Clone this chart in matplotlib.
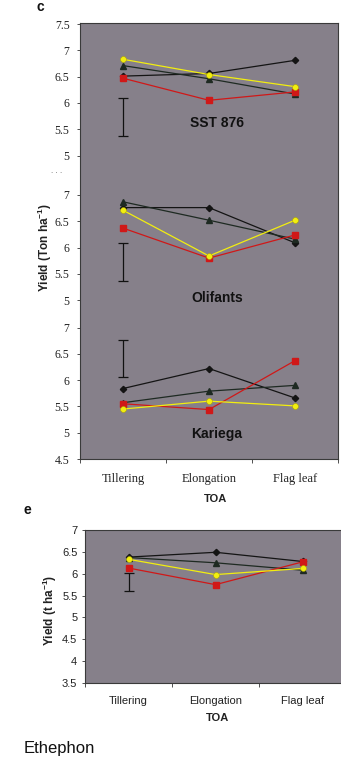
import matplotlib
matplotlib.use("Agg")
import matplotlib.pyplot as plt

# ---------------- data ----------------
stages = ["Tillering", "Elongation", "Flag leaf"]
cultivars = ["SST 876", "Olifants", "Kariega"]

# panel c (per cultivar): diamond, triangle, square(red), circle(yellow)
c_diamond = {"SST 876": [6.51, 6.56, 6.81], "Olifants": [6.76, 6.76, 6.09], "Kariega": [5.84, 6.22, 5.66]}
c_triangle = {"SST 876": [6.71, 6.46, 6.17], "Olifants": [6.87, 6.52, 6.16], "Kariega": [5.57, 5.79, 5.90]}
c_square = {"SST 876": [6.47, 6.05, 6.21], "Olifants": [6.37, 5.80, 6.24], "Kariega": [5.55, 5.44, 6.37]}
c_circle = {"SST 876": [6.83, 6.54, 6.31], "Olifants": [6.71, 5.84, 6.52], "Kariega": [5.45, 5.60, 5.51]}
c_err_low = {"SST 876": 5.37, "Olifants": 5.37, "Kariega": 6.05}
c_err_high = {"SST 876": 6.09, "Olifants": 6.08, "Kariega": 6.77}
c_ticks = {"SST 876": [5, 5.5, 6, 6.5, 7, 7.5], "Olifants": [5, 5.5, 6, 6.5, 7], "Kariega": [4.5, 5, 5.5, 6, 6.5, 7]}

# panel e
e_diamond = [6.38, 6.49, 6.28]
e_triangle = [6.37, 6.25, 6.08]
e_square = [6.13, 5.75, 6.27]
e_circle = [6.33, 5.98, 6.12]
e_err = [5.60, 6.02]
e_ticks = [3.5, 4, 4.5, 5, 5.5, 6, 6.5, 7]

# ---------------- style ----------------
W, H = 341, 757
BG = "#86808a"
RED = "#d01818"
YEL = "#f2ee10"
DIA = "#141414"
TRI = "#1e2a22"
TXT = "#222222"
plt.rcParams["mathtext.default"] = "regular"
SERIF = "Liberation Serif"
SANS = "Liberation Sans"

fig = plt.figure(figsize=(W / 100, H / 100), dpi=100)


def box(l, r, t, b):
    return [l / W, 1 - b / H, (r - l) / W, (b - t) / H]


# vertical offsets of stacked cultivar bands in panel c
offsets = {"SST 876": 5.27, "Olifants": 2.52, "Kariega": 0.0}

axc = fig.add_axes(box(80, 338, 23, 459))
axc.set_facecolor(BG)
axc.set_xlim(0.5, 3.5)
axc.set_ylim(4.5, 12.79)
x = [1, 2, 3]

for cv in cultivars:
    o = offsets[cv]
    sh = lambda v: [vv + o for vv in v]
    axc.plot(x, sh(c_diamond[cv]), color=DIA, lw=0.9, marker="D", ms=3.2, zorder=3)
    axc.plot(x, sh(c_triangle[cv]), color=TRI, lw=0.9, marker="^", ms=4, zorder=3)
    axc.plot(x, sh(c_square[cv]), color=RED, lw=0.9, marker="s", ms=4, zorder=4)
    axc.plot(x, sh(c_circle[cv]), color=YEL, lw=0.9, marker="o", ms=4.2,
             mec="#b0a800", mew=0.4, zorder=5)
    lo, hi = c_err_low[cv] + o, c_err_high[cv] + o
    axc.errorbar([1], [(lo + hi) / 2], yerr=[[(hi - lo) / 2], [(hi - lo) / 2]],
                 fmt="none", ecolor="#111111", elinewidth=0.9, capsize=3.5, capthick=0.9)

tpos, tlab = [], []
for cv in cultivars:
    for t in c_ticks[cv]:
        tpos.append(t + offsets[cv])
        tlab.append(f"{t:g}")
axc.set_yticks(tpos)
axc.set_yticklabels(tlab, fontfamily=SERIF, fontsize=8.5, color=TXT)
axc.tick_params(axis="y", length=2.5, width=0.6, pad=5, color="#333333")
axc.text(-0.07, 9.94, "· · ·", transform=axc.get_yaxis_transform(), ha="right", va="center",
         fontsize=5, color="#666666")

axc.set_xticks(x)
axc.set_xticklabels(stages, fontfamily=SERIF, fontsize=9, color=TXT)
axc.set_xticks([0.5, 1.5, 2.5, 3.5], minor=True)
axc.tick_params(axis="x", which="major", length=0, pad=10)
axc.tick_params(axis="x", which="minor", length=3, width=0.6, color="#333333")
for s in axc.spines.values():
    s.set_color("#3a3a3a")
    s.set_linewidth(0.8)

label_pos = {"SST 876": 123, "Olifants": 298, "Kariega": 434}
for cv in cultivars:
    fig.text(217 / W, 1 - label_pos[cv] / H, cv, ha="center", va="center",
             fontfamily=SANS, fontweight="bold", fontsize=10, color="#111111")

fig.text(45 / W, 1 - 248 / H, "Yield (Ton ha$^{-1}$)", rotation=90, ha="center", va="center",
         fontfamily=SANS, fontweight="bold", fontsize=8.5, color=TXT)
fig.text(215 / W, 1 - 499 / H, "TOA", ha="center", va="center",
         fontfamily=SANS, fontweight="bold", fontsize=8, color=TXT)
fig.text(40 / W, 1 - 7 / H, "c", ha="center", va="center",
         fontfamily=SANS, fontweight="bold", fontsize=10, color="#111111")

# ---------------- panel e ----------------
axe = fig.add_axes(box(85, 346, 530, 683))
axe.set_facecolor(BG)
axe.set_xlim(0.5, 3.5)
axe.set_ylim(3.5, 7)
axe.plot(x, e_diamond, color=DIA, lw=0.9, marker="D", ms=3.2, zorder=3)
axe.plot(x, e_triangle, color=TRI, lw=0.9, marker="^", ms=4, zorder=3)
axe.plot(x, e_square, color=RED, lw=0.9, marker="s", ms=4, zorder=4)
axe.plot(x, e_circle, color=YEL, lw=0.9, marker="o", ms=4.2, mec="#b0a800", mew=0.4, zorder=5)
axe.errorbar([1], [(e_err[0] + e_err[1]) / 2], yerr=[[(e_err[1] - e_err[0]) / 2], [(e_err[1] - e_err[0]) / 2]],
             fmt="none", ecolor="#111111", elinewidth=0.9, capsize=3.5, capthick=0.9)
axe.set_yticks(e_ticks)
axe.set_yticklabels([f"{t:g}" for t in e_ticks], fontfamily=SANS, fontsize=8, color=TXT)
axe.tick_params(axis="y", length=2.5, width=0.6, pad=3, color="#333333")
axe.set_xticks(x)
axe.set_xticklabels(stages, fontfamily=SANS, fontsize=8, color=TXT)
axe.set_xticks([0.5, 1.5, 2.5, 3.5], minor=True)
axe.tick_params(axis="x", which="major", length=0, pad=9)
axe.tick_params(axis="x", which="minor", length=3, width=0.6, color="#333333")
for s in axe.spines.values():
    s.set_color("#3a3a3a")
    s.set_linewidth(0.8)

fig.text(50 / W, 1 - 610 / H, "Yield (t ha$^{-1}$)", rotation=90, ha="center", va="center",
         fontfamily=SANS, fontweight="bold", fontsize=8.5, color=TXT)
fig.text(217 / W, 1 - 718 / H, "TOA", ha="center", va="center",
         fontfamily=SANS, fontweight="bold", fontsize=8, color=TXT)
fig.text(27 / W, 1 - 510 / H, "e", ha="center", va="center",
         fontfamily=SANS, fontweight="bold", fontsize=10, color="#111111")

fig.text(24 / W, 1 - 756 / H, "Ethephon", ha="left", va="bottom",
         fontfamily=SANS, fontsize=12, color="#111111")

fig.savefig("out.png", dpi=100)
